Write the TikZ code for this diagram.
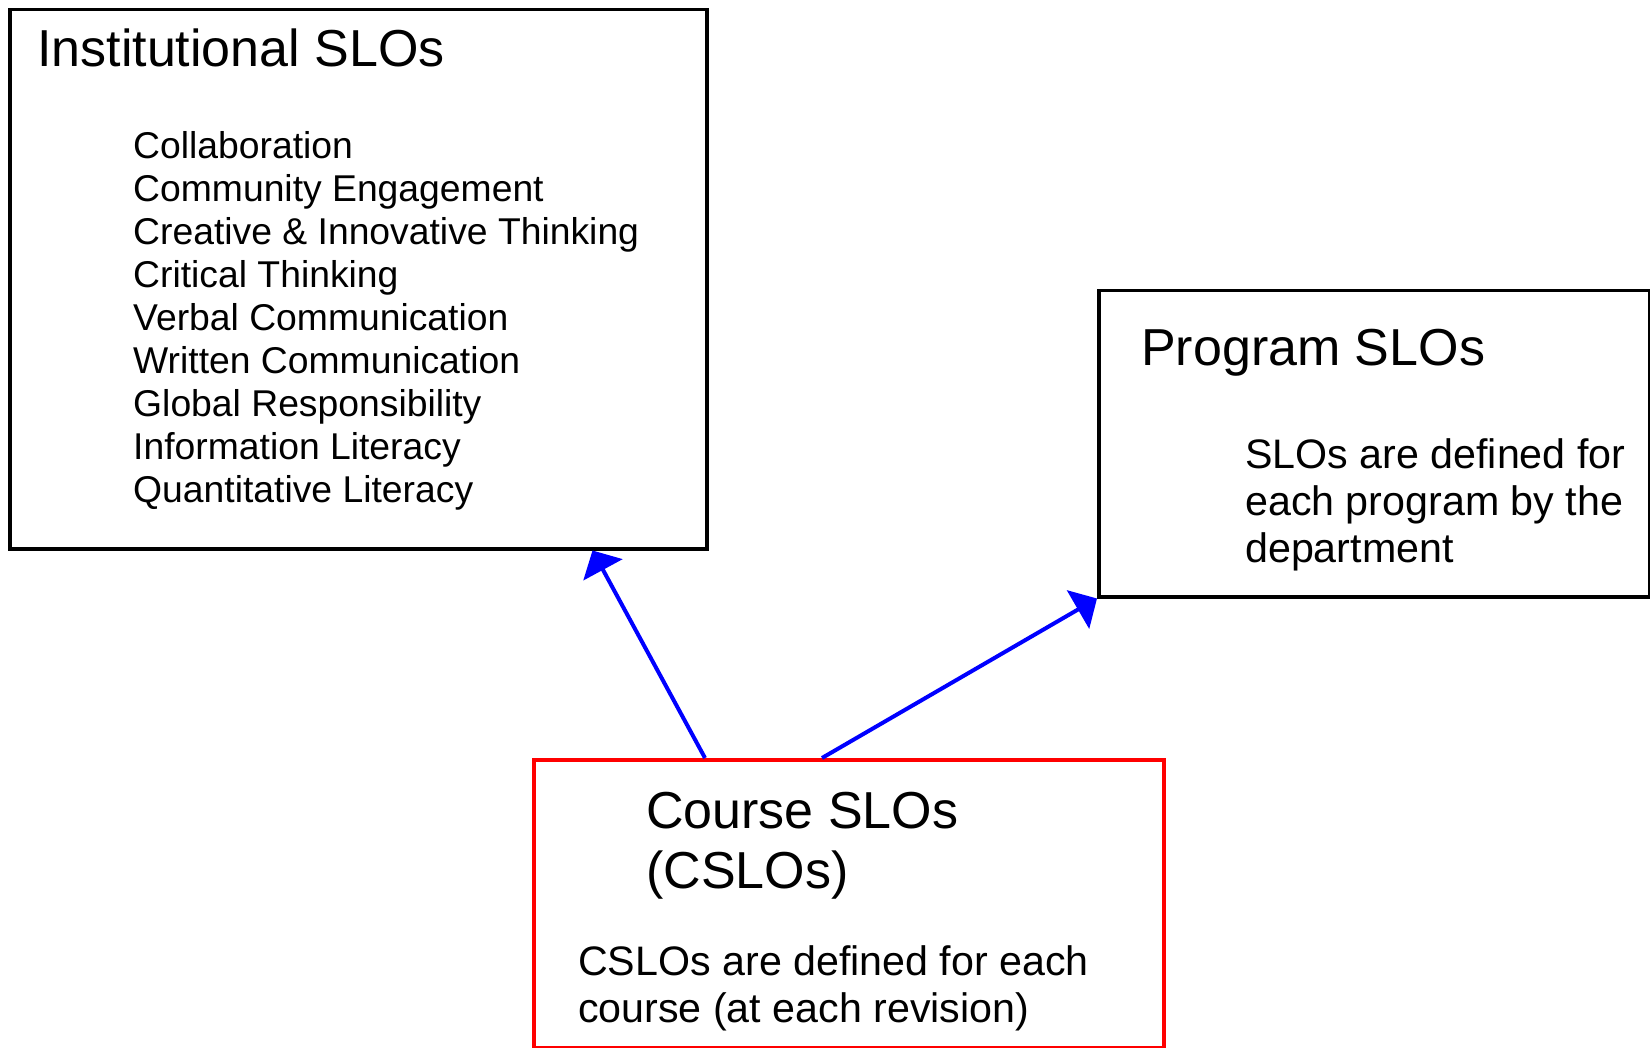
\documentclass[tikz,border=0pt]{standalone}
\usepackage{fontspec}
\setmainfont{Liberation Sans}
\usetikzlibrary{arrows.meta}

\begin{document}
\begin{tikzpicture}[
    x=1pt, y=-1pt,
    every node/.style={inner sep=0pt},
    slobox/.style={draw, line width=3.5pt, anchor=north west},
    heading/.style={anchor=base west, align=left, font=\fontsize{52}{60}\selectfont},
    itemlist/.style={anchor=base west, align=left, font=\fontsize{37.3}{43.1}\selectfont},
    note/.style={anchor=base west, align=left, font=\fontsize{41.2}{47.4}\selectfont},
    link/.style={draw=blue, line width=4pt, -{Triangle[length=22pt, width=44pt]}},
]
  \useasboundingbox (0,0) rectangle (1650,1048);

  % boxes
  \node [slobox, minimum width=697pt, minimum height=539pt]          (inst)   at (8,8)      {};
  \node [slobox, minimum width=551pt, minimum height=306pt]          (prog)   at (1097,289) {};
  \node [slobox, draw=red, minimum width=630pt, minimum height=288pt] (course) at (532,758)  {};

  % texts (base = baseline of the last line)
  \node [heading]  (insttitle)   at (37,67)      {Institutional SLOs};
  \node [itemlist] (instlist)    at (133,502.8)  {Collaboration\\Community Engagement\\Creative \& Innovative Thinking\\Critical Thinking\\Verbal Communication\\Written Communication\\Global Responsibility\\Information Literacy\\Quantitative Literacy};
  \node [heading]  (progtitle)   at (1141,366)   {Program SLOs};
  \node [note]     (progtext)    at (1245,562.8) {SLOs are defined for\\each program by the\\department};
  \node [heading]  (coursetitle) at (646,888)    {Course SLOs\\(CSLOs)};
  \node [note]     (coursetext)  at (578,1022.4) {CSLOs are defined for each\\course (at each revision)};

  % connectors
  \draw [link] ([xshift=173pt]course.north west) -- ([xshift=-116pt]inst.south east);
  \draw [link] ([xshift=290pt]course.north west) -- (prog.south west);
\end{tikzpicture}
\end{document}
